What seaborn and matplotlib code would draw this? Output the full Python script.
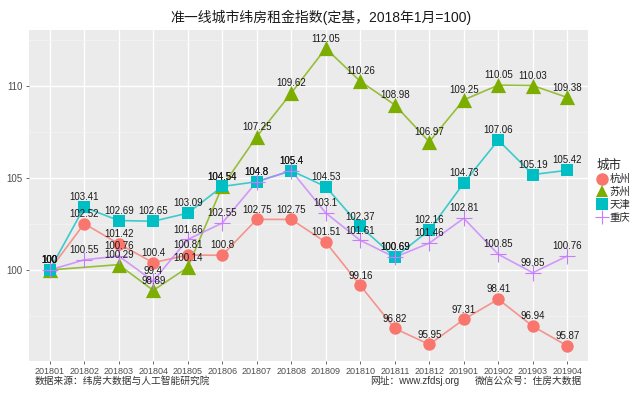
import matplotlib
matplotlib.use('Agg')
import matplotlib.pyplot as plt
from matplotlib.lines import Line2D
import numpy as np
import pandas as pd
import seaborn as sns

# data
months = ['201801','201802','201803','201804','201805','201806','201807','201808',
          '201809','201810','201811','201812','201901','201902','201903','201904']
hangzhou = [100, 102.52, 101.42, 100.4, 100.81, 100.8, 102.75, 102.75,
            101.51, 99.16, 96.82, 95.95, 97.31, 98.41, 96.94, 95.87]
suzhou = [100, np.nan, 100.29, 98.89, 100.14, 104.54, 107.25, 109.62,
          112.05, 110.26, 108.98, 106.97, 109.25, 110.05, 110.03, 109.38]
tianjin = [100, 103.41, 102.69, 102.65, 103.09, 104.54, 104.8, 105.4,
           104.53, 102.37, 100.69, 102.16, 104.73, 107.06, 105.19, 105.42]
chongqing = [100, 100.55, 100.76, 99.4, 101.66, 102.55, 104.8, 105.4,
             103.1, 101.61, 100.69, 101.46, 102.81, 100.85, 99.85, 100.76]
cities = ['杭州', '苏州', '天津', '重庆']
series = [hangzhou, suzhou, tianjin, chongqing]
colors = ['#F8766D', '#7CAE00', '#00BFC4', '#C77CFF']
markers = ['o', '^', 's', '+']
msizes = [80, 120, 80, 130]

rows = []
for c, vals in zip(cities, series):
    for i, v in enumerate(vals):
        if not np.isnan(v):
            rows.append({'城市': c, 'pos': i, 'month': months[i], 'value': v})
df = pd.DataFrame(rows)

# build image
sns.set_style('darkgrid', {'axes.facecolor': '#EBEBEB', 'grid.color': 'white'})
plt.rcParams['font.family'] = ['Liberation Sans', 'Noto Sans CJK SC', 'DejaVu Sans']

fig = plt.figure(figsize=(6.41, 3.95), dpi=100)
ax = fig.add_axes([29/641, 1-361/395, (588-29)/641, (361-30)/395])

pal = dict(zip(cities, colors))
sns.lineplot(data=df, x='pos', y='value', hue='城市', palette=pal, ax=ax,
             linewidth=1.2, alpha=0.75, legend=False, sort=True)
for c, m, s in zip(cities, markers, msizes):
    sub = df[df['城市'] == c]
    lw = 0.8 if m == '+' else 0
    sns.scatterplot(data=sub, x='pos', y='value', color=pal[c], marker=m, s=s,
                    linewidth=lw, edgecolor=pal[c] if m != '+' else None,
                    ax=ax, legend=False, zorder=3)
    for _, r in sub.iterrows():
        ax.annotate(f"{r['value']:g}", (r['pos'], r['value']), xytext=(0, 3.5),
                    textcoords='offset points', ha='center', va='bottom',
                    fontsize=7, color='#1a1a1a', zorder=4)

# graph elements
ax.set_xlim(-0.6, 15.6)
ax.set_ylim(95.05, 113.05)
ax.set_xticks(range(len(months)))
ax.set_xticklabels(months)
ax.set_yticks([100, 105, 110])
ax.set_yticks([97.5, 102.5, 107.5, 112.5], minor=True)
ax.grid(which='major', color='white', linewidth=1.0)
ax.grid(which='minor', axis='y', color='#F5F5F5', linewidth=0.5)
ax.tick_params(axis='both', which='major', labelsize=6.5, colors='#4D4D4D',
               length=2.5, width=0.6, pad=2, left=True, bottom=True)
ax.tick_params(axis='y', which='major', labelsize=7)
ax.tick_params(axis='both', which='minor', length=0)
ax.set_xlabel('')
ax.set_ylabel('')
for sp in ax.spines.values():
    sp.set_visible(False)

fig.text(0.5, 1-17/395, '准一线城市纬房租金指数(定基，2018年1月=100)',
         ha='center', va='center', fontsize=10, color='#1a1a1a')

handles = [Line2D([], [], linestyle='', marker=m, color=col, markersize=9 if m != '+' else 10,
                  markeredgewidth=0.8 if m == '+' else 0)
           for m, col in zip(markers, colors)]
leg = fig.legend(handles, cities, title='城市', loc='upper left',
                 bbox_to_anchor=(592/641, 1-155/395), frameon=False,
                 fontsize=7.5, title_fontsize=9, handletextpad=0.1,
                 labelspacing=0.25, borderaxespad=0, handlelength=1.2)
leg._legend_box.align = 'left'

fig.text(35/641, 1-381/395, '数据来源：纬房大数据与人工智能研究院',
         ha='left', va='center', fontsize=7, color='#333333')
fig.text(370/641, 1-381/395, '网址：www.zfdsj.org',
         ha='left', va='center', fontsize=7, color='#333333')
fig.text(582/641, 1-381/395, '微信公众号：住房大数据',
         ha='right', va='center', fontsize=7, color='#333333')

fig.savefig('out.png', dpi=100)
